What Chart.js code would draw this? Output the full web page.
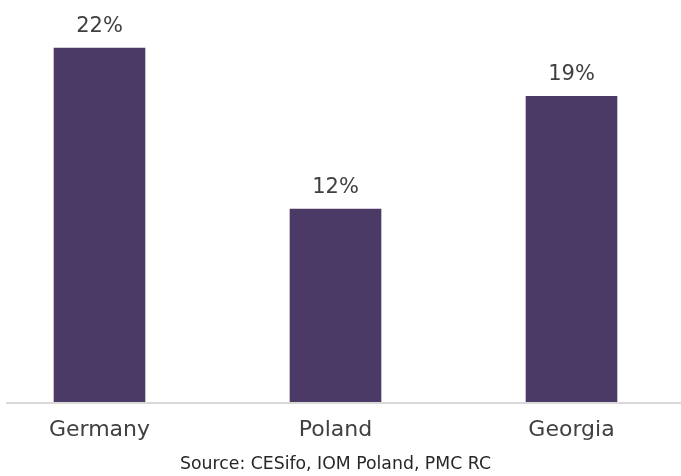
<!DOCTYPE html>
<html>
<head>
<meta charset="utf-8">
<script src="https://cdn.jsdelivr.net/npm/chart.js@4"></script>
<style>
html,body{margin:0;padding:0;background:#fff;}
#wrap{width:681px;height:476px;position:relative;}
</style>
</head>
<body>
<div id="wrap"><canvas id="c" width="681" height="476"></canvas></div>
<script>
const categories = ['Germany', 'Poland', 'Georgia'];
const values = [22, 12, 19];
const sourceText = 'Source: CESifo, IOM Poland, PMC RC';

const barColor = '#4b3a66';
const textColor = '#404040';

const labelPlugin = {
  id: 'labels',
  afterDatasetsDraw(chart) {
    const ctx = chart.ctx;
    const meta = chart.getDatasetMeta(0);
    ctx.save();
    ctx.font = '21px "DejaVu Sans"';
    ctx.fillStyle = textColor;
    ctx.textAlign = 'center';
    ctx.textBaseline = 'alphabetic';
    meta.data.forEach((bar, i) => {
      ctx.fillText(values[i] + '%', bar.x, bar.y - 16);
    });
    ctx.restore();
  }
};

const baselinePlugin = {
  id: 'baseline',
  afterDatasetsDraw(chart) {
    const ctx = chart.ctx;
    const y = chart.scales.y.getPixelForValue(0);
    ctx.save();
    ctx.strokeStyle = '#d9d9d9';
    ctx.lineWidth = 2;
    ctx.beginPath();
    ctx.moveTo(6, y + 1);
    ctx.lineTo(681, y + 1);
    ctx.stroke();
    ctx.restore();
  }
};

new Chart(document.getElementById('c'), {
  type: 'bar',
  data: {
    labels: categories,
    datasets: [{
      data: values,
      backgroundColor: barColor,
      borderWidth: 0,
      barThickness: 91,
      clip: false
    }]
  },
  options: {
    responsive: false,
    animation: false,
    devicePixelRatio: 1,
    layout: { padding: { left: 99.5, right: 109.5, top: 16, bottom: 0 } },
    plugins: {
      legend: { display: false },
      tooltip: { enabled: false },
      title: {
        display: true,
        position: 'bottom',
        text: sourceText,
        color: '#262626',
        font: { family: 'DejaVu Sans', size: 17.3, weight: 'normal' },
        padding: { top: 4, bottom: 1.2 }
      }
    },
    scales: {
      x: {
        type: 'category',
        offset: false,
        grid: { display: false, drawTicks: false },
        border: { display: false },
        ticks: {
          color: '#404040',
          font: { family: 'DejaVu Sans', size: 22 },
          padding: 15,
          maxRotation: 0,
          autoSkip: false
        },
        afterFit(scale) { scale.height = 48; }
      },
      y: {
        display: false,
        min: 0,
        max: 24
      }
    }
  },
  plugins: [labelPlugin, baselinePlugin]
});
</script>
</body>
</html>
